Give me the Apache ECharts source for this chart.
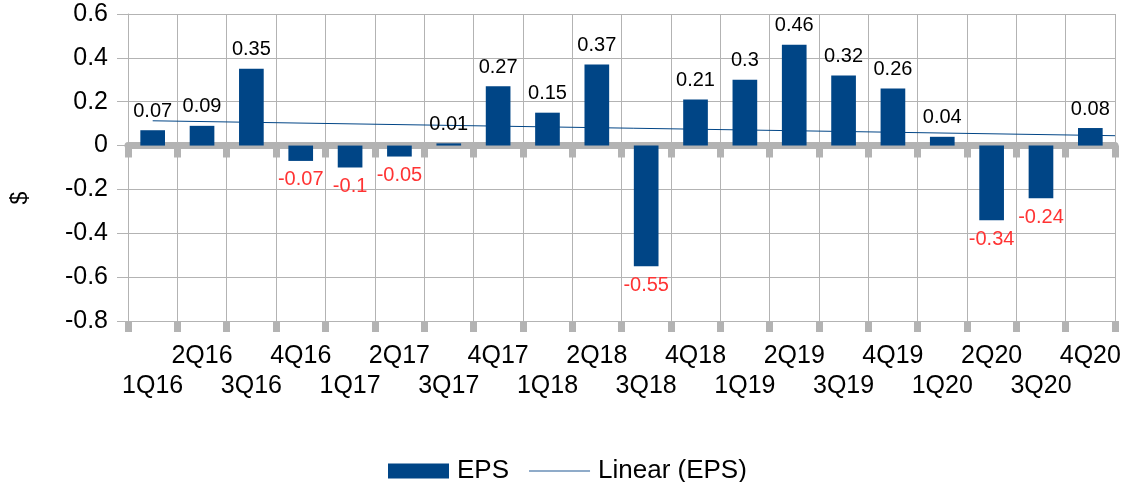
<!DOCTYPE html>
<html>
<head>
<meta charset="utf-8">
<script src="https://cdn.jsdelivr.net/npm/echarts@6/dist/echarts.min.js"></script>
<style>
  html, body { margin: 0; padding: 0; background: #fff; }
  #chart { width: 1128px; height: 482px; }
</style>
</head>
<body>
<div id="chart"></div>
<script>
// quarters on the category axis
const quarters = ['1Q16', '2Q16', '3Q16', '4Q16', '1Q17', '2Q17', '3Q17', '4Q17',
  '1Q18', '2Q18', '3Q18', '4Q18', '1Q19', '2Q19', '3Q19', '4Q19',
  '1Q20', '2Q20', '3Q20', '4Q20'];

// EPS per quarter ($)
const eps = [0.07, 0.09, 0.35, -0.07, -0.1, -0.05, 0.01, 0.27,
  0.15, 0.37, -0.55, 0.21, 0.3, 0.46, 0.32, 0.26,
  0.04, -0.34, -0.24, 0.08];

// trend line end points (x in category slots)
const trendX = [0.5, 20];
const trendY = [0.113, 0.045];

const GRAY = '#b3b3b3';
const BLUE = '#004586';
const FONT = '"Liberation Sans", Arial, sans-serif';

const chart = echarts.init(document.getElementById('chart'));

const barData = eps.map(v => ({
  value: v,
  label: {
    position: v < 0 ? 'bottom' : 'top',
    color: v < 0 ? '#ff3333' : '#000'
  }
}));

chart.setOption({
  animation: false,
  textStyle: { fontFamily: FONT },
  grid: { left: 128, right: 13, top: 14, bottom: 161 },
  legend: {
    left: 383,
    top: 453,
    itemWidth: 61,
    itemHeight: 15,
    itemGap: 19,
    textStyle: { fontSize: 26, lineHeight: 26, color: '#000', fontFamily: FONT, padding: [0, 0, 0, 3] },
    data: [
      { name: 'EPS', icon: 'rect' },
      { name: 'Linear (EPS)', itemStyle: { opacity: 0 }, lineStyle: { color: '#8fabc9', width: 2 } }
    ]
  },
  graphic: [{
    type: 'text',
    x: 21,
    y: 198,
    rotation: Math.PI / 2,
    style: {
      text: '$',
      fontSize: 23,
      fontFamily: FONT,
      fill: '#000',
      align: 'center',
      verticalAlign: 'middle'
    }
  }],
  xAxis: [
    {
      type: 'category',
      data: quarters,
      position: 'bottom',
      axisLine: { onZero: false, lineStyle: { color: GRAY, width: 1 } },
      axisTick: { show: true, length: 11, lineStyle: { color: GRAY, width: 7 } },
      splitLine: { show: true, lineStyle: { color: GRAY, width: 1 } },
      axisLabel: {
        interval: 0,
        margin: 20,
        fontSize: 25,
        lineHeight: 30,
        color: '#000',
        fontFamily: FONT,
        formatter: (v, i) => (i % 2 === 0 ? '\n' + v : v)
      }
    },
    {
      // thick zero line with the ticks hanging under it
      type: 'value',
      position: 'top',
      min: 0,
      max: 20,
      interval: 1,
      axisLine: { show: true, onZero: true, lineStyle: { color: GRAY, width: 7 } },
      axisTick: { show: true, inside: true, length: 12, lineStyle: { color: GRAY, width: 7 } },
      axisLabel: { show: false },
      splitLine: { show: false }
    }
  ],
  yAxis: {
    type: 'value',
    min: -0.8,
    max: 0.6,
    interval: 0.2,
    axisLine: { show: true, lineStyle: { color: GRAY, width: 1 } },
    axisTick: { show: true, length: 11, lineStyle: { color: GRAY } },
    splitLine: { show: true, lineStyle: { color: GRAY, width: 1 } },
    axisLabel: { fontSize: 25, color: '#000', margin: 20, fontFamily: FONT }
  },
  series: [
    {
      name: 'EPS',
      type: 'bar',
      xAxisIndex: 0,
      barWidth: '50%',
      z: 3,
      itemStyle: { color: BLUE },
      label: { show: true, fontSize: 20, distance: 9, fontFamily: FONT },
      data: barData
    },
    {
      name: 'Linear (EPS)',
      type: 'line',
      xAxisIndex: 1,
      symbol: 'none',
      z: 1,
      lineStyle: { color: BLUE, width: 1 },
      itemStyle: { color: BLUE },
      data: trendX.map((x, i) => [x, trendY[i]])
    }
  ]
});
</script>
</body>
</html>
